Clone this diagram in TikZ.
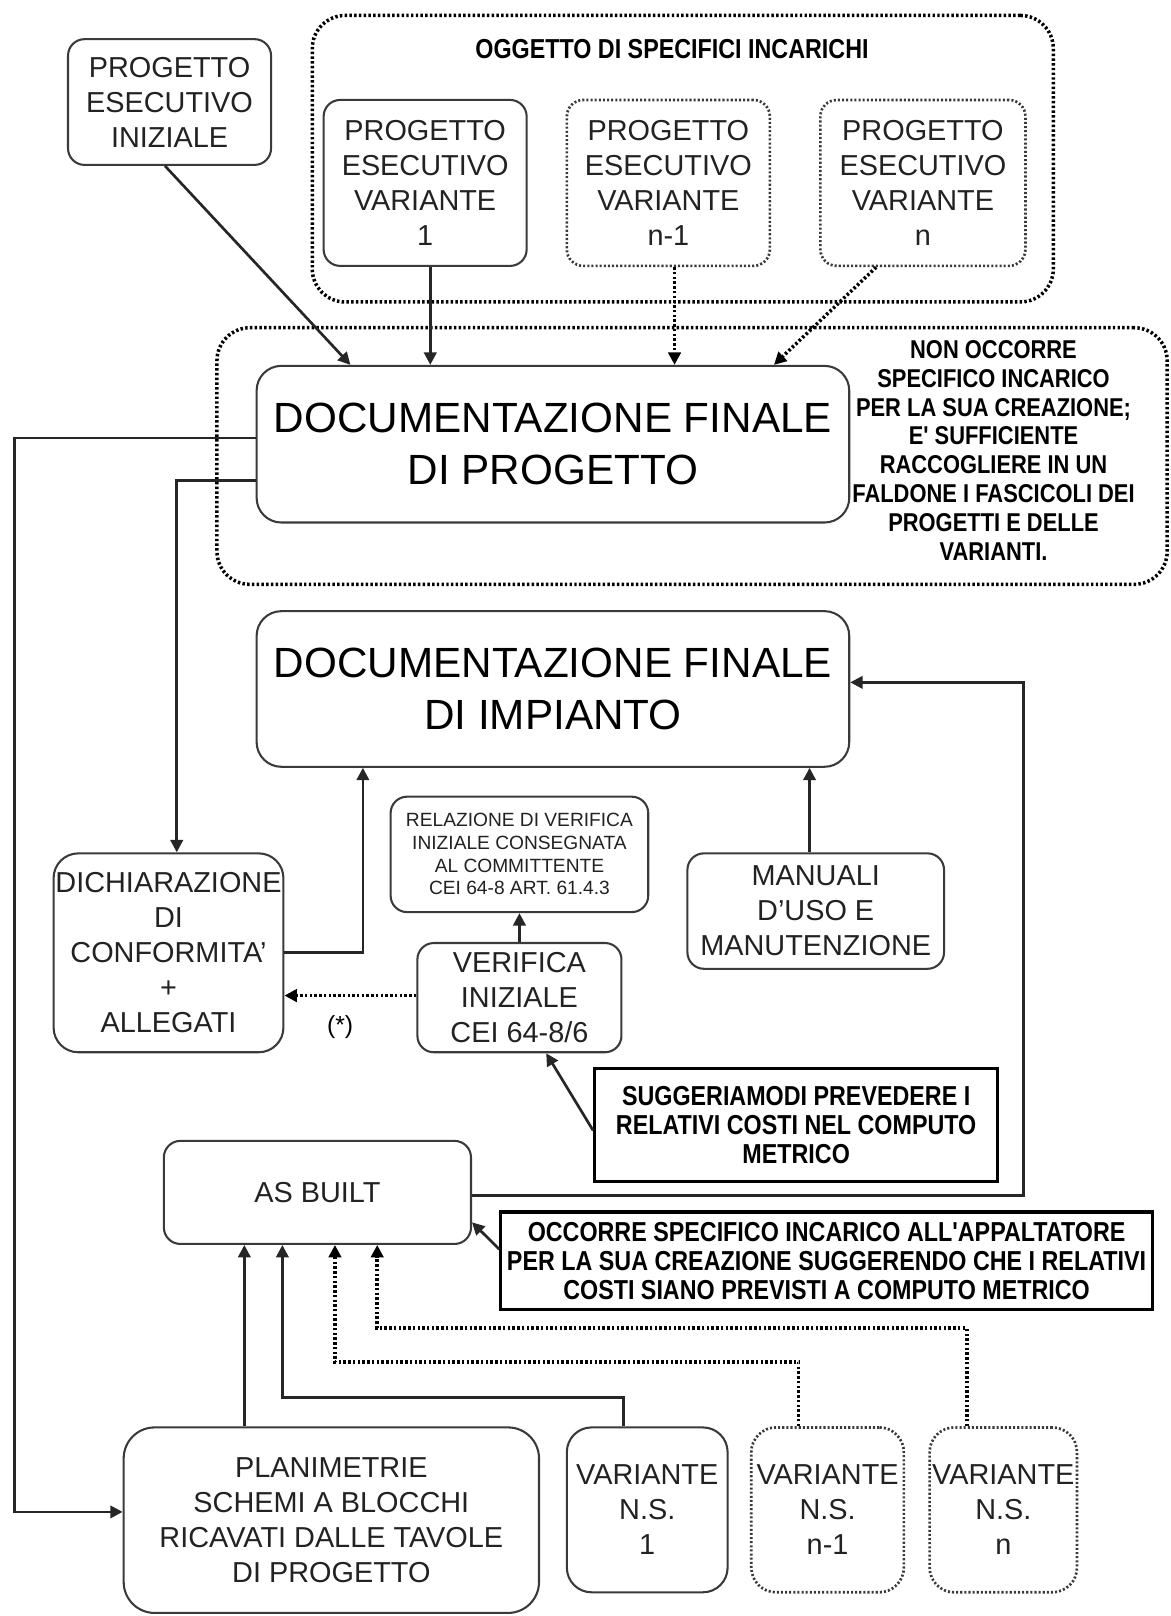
\documentclass[tikz,border=0pt]{standalone}
\usepackage{fontspec}
\setmainfont{Liberation Sans}
\newfontfamily\condb[FakeStretch=0.85]{Liberation Sans}
\usetikzlibrary{arrows.meta}
\definecolor{bx}{HTML}{3A3A3A}
\definecolor{tx}{HTML}{222222}
\begin{document}
\begin{tikzpicture}[x=0.5pt,y=-0.5pt,
  box/.style={draw=bx, line width=1pt, rounded corners=8pt, inner sep=0pt, align=center,
    font=\fontsize{14}{17}\selectfont, text=tx},
  bigbox/.style={box, rounded corners=12pt, font=\fontsize{20.5}{25}\selectfont, text=black},
  dots/.style={dash pattern=on 1.2pt off 1.1pt, line width=1.7pt},
  dbox/.style={box, draw=bx, dash pattern=on 1pt off 1pt, line width=1.3pt},
  cont/.style={draw=black, dots, rounded corners=16pt, inner sep=0pt},
  nbox/.style={draw=black, line width=1.5pt, inner sep=0pt, align=center,
    font=\condb\bfseries\fontsize{13.3}{14}\selectfont},
  btext/.style={inner sep=0pt, align=center, font=\condb\bfseries\fontsize{12.5}{14}\selectfont},
  arr/.style={draw=black!85, line width=1.3pt, -{Triangle[length=6pt,width=6pt]}},
  darr/.style={draw=black, dots, -{Triangle[length=6pt,width=6pt]}},
]
\useasboundingbox (0,0) rectangle (1136,1568);
\fill[white] (0,0) rectangle (1136,1568);

% containers
\node[cont, minimum width=359.5pt, minimum height=139pt] (topc) at (662.5,154) {};
\node[cont, minimum width=461pt, minimum height=124.5pt] (midc) at (671.5,442.5) {};

% title and note
\node[btext, font=\condb\bfseries\fontsize{13.3}{14}\selectfont] (ttl) at (652,48) {OGGETTO DI SPECIFICI INCARICHI};
\node[btext] (note) at (964,437) {NON OCCORRE\\SPECIFICO INCARICO\\PER LA SUA CREAZIONE;\\E' SUFFICIENTE\\RACCOGLIERE  IN UN\\FALDONE I FASCICOLI DEI\\PROGETTI E DELLE\\VARIANTI.};

% top boxes
\node[box, minimum width=98.5pt, minimum height=61pt] (pei) at (164.5,99) {PROGETTO\\ESECUTIVO\\INIZIALE};
\node[box, minimum width=98.5pt, minimum height=80.5pt] (pv1) at (412.5,177.5) {PROGETTO\\ESECUTIVO\\VARIANTE\\1};
\node[dbox, minimum width=98.5pt, minimum height=80.5pt] (pvn1) at (648.5,177.5) {PROGETTO\\ESECUTIVO\\VARIANTE\\n-1};
\node[dbox, minimum width=99.5pt, minimum height=80.5pt] (pvn) at (895.5,177.5) {PROGETTO\\ESECUTIVO\\VARIANTE\\n};

% big boxes
\node[bigbox, minimum width=287.5pt, minimum height=76pt] (dfp) at (536.5,431) {DOCUMENTAZIONE FINALE\\DI PROGETTO};
\node[bigbox, minimum width=287.5pt, minimum height=75.5pt] (dfi) at (536.5,668.5) {DOCUMENTAZIONE FINALE\\DI IMPIANTO};

% middle boxes
\node[box, rounded corners=12pt, minimum width=111.5pt, minimum height=96.5pt] (dich) at (163.5,924.5) {DICHIARAZIONE\\DI\\CONFORMITA'\\+\\ALLEGATI};
\node[box, minimum width=125pt, minimum height=56pt, font=\fontsize{9.3}{11}\selectfont] (rel) at (504,829) {RELAZIONE DI VERIFICA\\INIZIALE CONSEGNATA\\AL COMMITTENTE\\CEI 64-8 ART. 61.4.3};
\node[box, minimum width=99pt, minimum height=53pt] (ver) at (504,968) {VERIFICA\\INIZIALE\\CEI 64-8/6};
\node[box, minimum width=124.5pt, minimum height=56pt] (man) at (791.5,884) {MANUALI\\D'USO E\\MANUTENZIONE};
\node[inner sep=0pt, font=\fontsize{12}{14}\selectfont] (star) at (330,997) {(*)};

\node[nbox, minimum width=195.5pt, minimum height=54.5pt] (sug) at (772.5,1091.5) {SUGGERIAMODI  PREVEDERE  I\\RELATIVI COSTI  NEL  COMPUTO\\METRICO};
\node[box, minimum width=149pt, minimum height=50pt] (asb) at (308,1157) {AS BUILT};
\node[nbox, minimum width=316pt, minimum height=47.5pt] (occ) at (802,1223.5) {OCCORRE  SPECIFICO INCARICO  ALL'APPALTATORE\\PER LA SUA CREAZIONE  SUGGERENDO  CHE I RELATIVI\\COSTI SIANO  PREVISTI A COMPUTO  METRICO};

% bottom boxes
\node[box, rounded corners=15pt, minimum width=201.5pt, minimum height=90pt] (plan) at (321.5,1475) {PLANIMETRIE\\SCHEMI A BLOCCHI\\RICAVATI DALLE TAVOLE\\DI PROGETTO};
\node[box, rounded corners=12pt, minimum width=78pt, minimum height=80pt] (vns1) at (628,1465) {VARIANTE\\N.S.\\1};
\node[dbox, rounded corners=12pt, minimum width=74pt, minimum height=80pt] (vnsn1) at (803,1465) {VARIANTE\\N.S.\\n-1};
\node[dbox, rounded corners=12pt, minimum width=71.5pt, minimum height=80pt] (vnsn) at (973.5,1465) {VARIANTE\\N.S.\\n};

\coordinate (L) at (14,0);
\coordinate (R) at (993,0);

% connectors top
\draw[arr] ([xshift=-2.2pt]pei.south) -- ([xshift=46pt]dfp.north west);
\draw[arr] ([xshift=2.5pt]pv1.south) -- ([xshift=2.5pt]pv1.south |- dfp.north);
\draw[darr] ([xshift=3pt]pvn1.south) -- ([xshift=3pt]pvn1.south |- dfp.north);
\draw[darr] ([xshift=-22.7pt]pvn.south) -- ([xshift=-37pt]dfp.north east);

% connectors from dfp
\draw[arr] ([yshift=3pt]dfp.west) -- ([yshift=3pt]dfp.west -| L) |- ([yshift=4pt]plan.west);
\draw[arr] ([yshift=-17.5pt]dfp.west) -| ([xshift=4pt]dich.north);
\draw[arr] (dich.east) -| ([xshift=-92.2pt]dfi.south);
\draw[darr] ([yshift=1pt]ver.west) -- ([yshift=1pt]ver.west -| dich.east);
\draw[arr] (ver.north) -- (rel.south);
\draw[arr] ([xshift=-3pt]man.north) -- ([xshift=-3pt]man.north |- dfi.south);
\draw[arr] ([yshift=-1.5pt]asb.east) -| ([yshift=3.2pt]dfi.east -| R) -- ([yshift=3.2pt]dfi.east);
\draw[arr] ([yshift=-2.7pt]sug.west) -- ([xshift=13pt]ver.south);
\draw[arr] ([yshift=5.7pt]occ.west) -- ([yshift=-14.5pt]asb.east);

% connectors bottom
\draw[arr] ([xshift=-42.2pt]plan.north) -- ([xshift=-42.2pt]plan.north |- asb.south);
\draw[arr] ([xshift=-11.5pt]vns1.north) -- ++(0,-28) -| ([xshift=-17pt]asb.south);
\draw[darr] ([xshift=-14pt]vnsn1.north) -- ++(0,-62) -| ([xshift=8.5pt]asb.south);
\draw[darr] ([xshift=-17.7pt]vnsn.north) -- ++(0,-95) -| ([xshift=29pt]asb.south);
\end{tikzpicture}
\end{document}
